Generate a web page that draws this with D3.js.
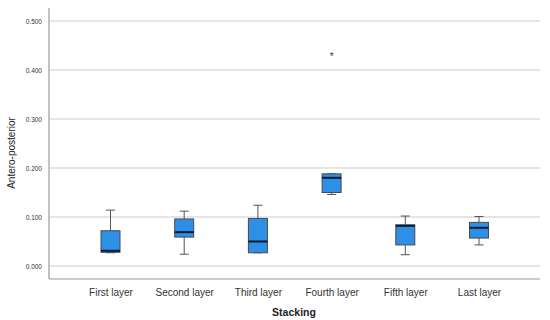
<!DOCTYPE html>
<html>
<head>
<meta charset="utf-8">
<script src="https://cdn.jsdelivr.net/npm/d3@7"></script>
<style>
  body { margin: 0; background: #fff; }
  text { font-family: Arial, "Liberation Sans", sans-serif; }
</style>
</head>
<body>
<div id="plot"></div>
<script>
let width = 550;
let height = 320;

// values
let layers = ["First layer", "Second layer", "Third layer", "Fourth layer", "Fifth layer", "Last layer"];
let whiskerLow = [0.027, 0.024, 0.027, 0.146, 0.023, 0.043];
let boxLow = [0.028, 0.059, 0.027, 0.150, 0.043, 0.057];
let medians = [0.031, 0.069, 0.050, 0.180, 0.082, 0.078];
let boxHigh = [0.072, 0.096, 0.097, 0.188, 0.084, 0.089];
let whiskerHigh = [0.114, 0.112, 0.124, 0.188, 0.102, 0.101];
let outliers = [{layer: "Fourth layer", value: 0.428}];
let yTicks = [0, 0.1, 0.2, 0.3, 0.4, 0.5];

let plotLeft = 49, plotRight = 540, plotBottom = 279, plotTop = 8;

let svg = d3.select("#plot")
    .append("svg")
    .attr("width", width)
    .attr("height", height);

let xScale = d3.scalePoint()
    .domain(layers)
    .range([110.5, 479]);

let yScale = d3.scaleLinear()
    .domain([0, 0.5])
    .range([266, 21]);

// grid lines
svg.append("g")
    .selectAll("line")
    .data(yTicks)
    .join("line")
    .attr("x1", plotLeft + 1)
    .attr("x2", plotRight)
    .attr("y1", d => yScale(d))
    .attr("y2", d => yScale(d))
    .style("stroke", "#dcdcdc")
    .style("stroke-width", 1.5);

// y axis
let yAxis = d3.axisLeft(yScale)
    .tickValues(yTicks)
    .tickSize(0)
    .tickPadding(7)
    .tickFormat(d3.format(".3f"));

let yg = svg.append("g")
    .attr("transform", "translate(" + plotLeft + ",0)")
    .call(yAxis);
yg.select(".domain").remove();
yg.selectAll("text")
    .style("font-size", "6.5px")
    .style("fill", "#333");

svg.append("line")
    .attr("x1", plotLeft).attr("x2", plotLeft)
    .attr("y1", plotTop).attr("y2", plotBottom)
    .style("stroke", "#999").style("stroke-width", 1.2);

// x axis
let xAxis = d3.axisBottom(xScale).tickSize(0).tickPadding(10);
let xg = svg.append("g")
    .attr("transform", "translate(0," + plotBottom + ")")
    .call(xAxis);
xg.select(".domain").remove();
xg.selectAll("text")
    .style("font-size", "10px")
    .style("fill", "#333");

svg.append("line")
    .attr("x1", plotLeft).attr("x2", plotRight)
    .attr("y1", plotBottom).attr("y2", plotBottom)
    .style("stroke", "#999").style("stroke-width", 1.2);

// titles
svg.append("text")
    .attr("x", 294)
    .attr("y", 316)
    .style("text-anchor", "middle")
    .style("font-size", "10.5px")
    .style("font-weight", "bold")
    .style("fill", "#222")
    .text("Stacking");

svg.append("text")
    .attr("transform", "translate(15,153) rotate(-90)")
    .style("text-anchor", "middle")
    .style("font-size", "10px")
    .style("fill", "#222")
    .text("Antero-posterior");

// boxes
let boxW = 19;
let capW = 9;
let stats = layers.map((l, i) => ({
    layer: l,
    wLow: whiskerLow[i],
    q1: boxLow[i],
    med: medians[i],
    q3: boxHigh[i],
    wHigh: whiskerHigh[i]
}));

let boxes = svg.append("g")
    .selectAll("g")
    .data(stats)
    .join("g")
    .attr("transform", d => "translate(" + xScale(d.layer) + ",0)");

boxes.append("line")
    .attr("x1", 0).attr("x2", 0)
    .attr("y1", d => yScale(d.wHigh))
    .attr("y2", d => yScale(d.wLow))
    .style("stroke", "#555").style("stroke-width", 1);

boxes.selectAll(".cap")
    .data(d => [d.wHigh, d.wLow])
    .join("line")
    .attr("class", "cap")
    .attr("x1", -capW / 2).attr("x2", capW / 2)
    .attr("y1", d => yScale(d))
    .attr("y2", d => yScale(d))
    .style("stroke", "#555").style("stroke-width", 1);

boxes.append("rect")
    .attr("x", -boxW / 2)
    .attr("width", boxW)
    .attr("y", d => yScale(d.q3))
    .attr("height", d => yScale(d.q1) - yScale(d.q3))
    .style("fill", "#2e8fe6")
    .style("stroke", "#4a4a4a")
    .style("stroke-width", 1);

boxes.append("line")
    .attr("x1", -boxW / 2).attr("x2", boxW / 2)
    .attr("y1", d => yScale(d.med))
    .attr("y2", d => yScale(d.med))
    .style("stroke", "#0b1a2e").style("stroke-width", 2);

// outliers
svg.append("g")
    .selectAll("text")
    .data(outliers)
    .join("text")
    .attr("x", d => xScale(d.layer))
    .attr("y", d => yScale(d.value) + 4)
    .style("text-anchor", "middle")
    .style("font-size", "10px")
    .style("fill", "#333")
    .text("*");
</script>
</body>
</html>
